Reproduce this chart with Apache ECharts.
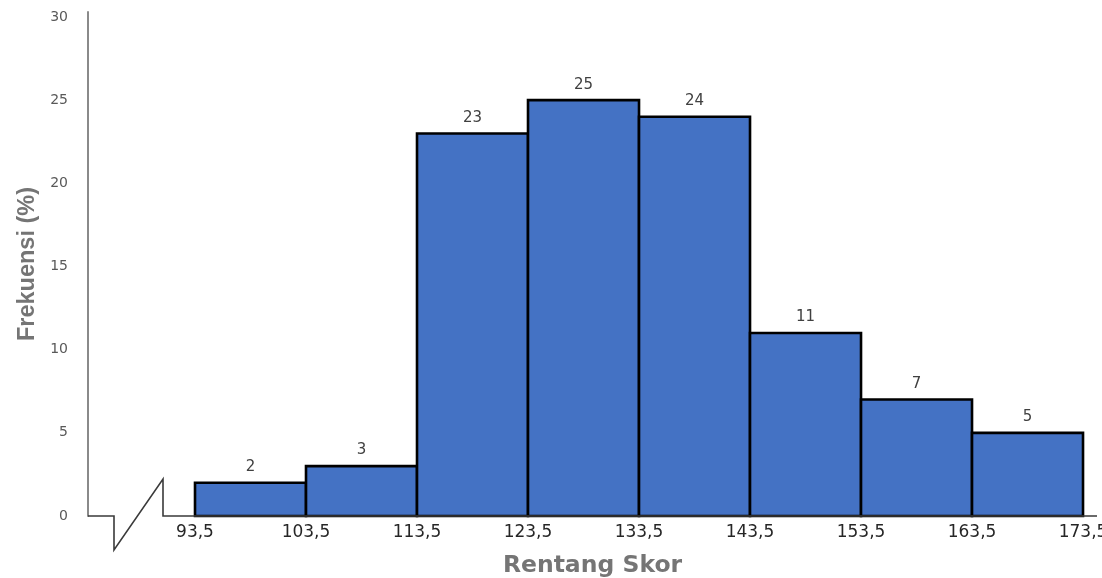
<!DOCTYPE html>
<html>
<head>
<meta charset="utf-8">
<title>Rentang Skor</title>
<script src="https://cdn.jsdelivr.net/npm/echarts@6/dist/echarts.min.js"></script>
<style>
  html, body { margin: 0; padding: 0; background: #fff; }
  #chart { width: 1102px; height: 578px; }
</style>
</head>
<body>
<div id="chart"></div>
<script>
// Class boundaries of the score ranges and the frequency (%) in each class
const classEdges = [93.5, 103.5, 113.5, 123.5, 133.5, 143.5, 153.5, 163.5, 173.5];
const frequencies = [2, 3, 23, 25, 24, 11, 7, 5];
const yTicks = [0, 5, 10, 15, 20, 25, 30];

// Axis extents (the left part leaves room for the broken-axis symbol)
const X_MIN = 83.86;
const X_MAX = 174.76;
const Y_MAX = 30.3;

const barData = frequencies.map((f, i) => [classEdges[i], classEdges[i + 1], f]);

const chart = echarts.init(document.getElementById('chart'), null, { renderer: 'canvas' });

const option = {
  animation: false,
  backgroundColor: '#ffffff',
  grid: {
    left: 88, right: 5, top: 12, bottom: 62,
    containLabel: false,
    outerBoundsMode: 'none'
  },
  xAxis: {
    type: 'value',
    min: X_MIN,
    max: X_MAX,
    name: 'Rentang Skor',
    nameLocation: 'middle',
    nameGap: 38,
    nameTextStyle: {
      fontFamily: 'DejaVu Sans', fontWeight: 'bold', fontSize: 23.5, color: '#757575'
    },
    axisLine: { show: false },
    axisTick: { show: false },
    splitLine: { show: false },
    axisLabel: {
      customValues: classEdges,
      margin: 8,
      fontFamily: 'DejaVu Sans',
      fontSize: 17,
      color: '#262626',
      showMinLabel: true,
      showMaxLabel: true,
      hideOverlap: false,
      formatter: v => String(v).replace('.', ',')
    }
  },
  yAxis: {
    type: 'value',
    min: 0,
    max: Y_MAX,
    name: 'Frekuensi (%)',
    nameLocation: 'middle',
    nameGap: 48,
    nameTextStyle: {
      fontFamily: 'Liberation Sans', fontWeight: 'bold', fontSize: 23.5, color: '#757575'
    },
    axisLine: { show: true, lineStyle: { color: '#8a8a8a', width: 2 } },
    axisTick: { show: false },
    splitLine: { show: false },
    axisLabel: {
      customValues: yTicks,
      margin: 20,
      fontFamily: 'DejaVu Sans',
      fontSize: 14,
      color: '#595959'
    }
  },
  series: [{
    type: 'custom',
    data: barData,
    encode: { x: [0, 1], y: 2 },
    clip: false,
    renderItem: function (params, api) {
      const lo = api.value(0), hi = api.value(1), v = api.value(2);
      const p0 = api.coord([lo, 0]);
      const p1 = api.coord([hi, v]);
      return {
        type: 'group',
        children: [
          {
            type: 'rect',
            shape: { x: p0[0], y: p1[1], width: p1[0] - p0[0], height: p0[1] - p1[1] },
            style: { fill: '#4472C4', stroke: '#000000', lineWidth: 2.6 }
          },
          {
            type: 'text',
            style: {
              text: String(v),
              x: (p0[0] + p1[0]) / 2,
              y: p1[1] - 8,
              align: 'center',
              verticalAlign: 'bottom',
              fontFamily: 'DejaVu Sans',
              fontSize: 15,
              fill: '#404040'
            }
          }
        ]
      };
    }
  }]
};

chart.setOption(option);

// Horizontal axis drawn with a break symbol near the origin
const origin = chart.convertToPixel({ xAxisIndex: 0, yAxisIndex: 0 }, [X_MIN, 0]);
const axisEnd = chart.convertToPixel({ xAxisIndex: 0, yAxisIndex: 0 }, [X_MAX, 0]);
const ox = origin[0], oy = origin[1];
chart.setOption({
  graphic: [{
    type: 'polyline',
    z: 10,
    shape: {
      points: [
        [ox, oy],
        [ox + 26, oy],
        [ox + 26, oy + 34],
        [ox + 75, oy - 37],
        [ox + 75, oy],
        [axisEnd[0], oy]
      ]
    },
    style: { stroke: '#3a3a3a', lineWidth: 1.6, fill: null }
  }]
});
</script>
</body>
</html>
